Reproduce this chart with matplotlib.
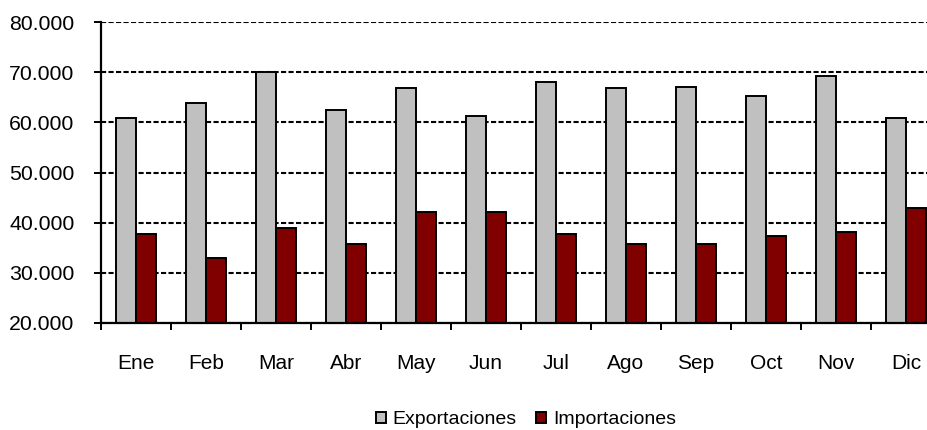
import matplotlib
matplotlib.use("Agg")
import matplotlib.pyplot as plt
import numpy as np
from matplotlib.ticker import FuncFormatter, MultipleLocator

months = ["Ene", "Feb", "Mar", "Abr", "May", "Jun", "Jul", "Ago", "Sep", "Oct", "Nov", "Dic"]
exportaciones = [60800, 63900, 70000, 62500, 66800, 61300, 68000, 66800, 67100, 65200, 69200, 60900]
importaciones = [37700, 33000, 38900, 35700, 42100, 42100, 37700, 35700, 35700, 37300, 38100, 42900]
series_names = ["Exportaciones", "Importaciones"]

plt.rcParams['font.family'] = ['Liberation Sans', 'DejaVu Sans']
plt.rcParams['lines.scale_dashes'] = False

fig = plt.figure(figsize=(9.27, 4.30), dpi=100)
ax = fig.add_axes([101/927, 107/430, 840/927, 301/430])

x = np.arange(len(months))
w = 20/70
ax.bar(x - w/2, exportaciones, width=w, color="#C0C0C0", edgecolor="black", linewidth=1.4,
       label=series_names[0], zorder=3)
ax.bar(x + w/2, importaciones, width=w, color="#800000", edgecolor="black", linewidth=1.4,
       label=series_names[1], zorder=3)

ax.set_ylim(20000, 80000)
ax.set_xlim(-0.5, len(months) - 0.5)
ax.yaxis.set_major_locator(MultipleLocator(10000))
ax.yaxis.set_major_formatter(FuncFormatter(lambda v, p: f"{int(v):,}".replace(",", ".")))
ax.yaxis.grid(True, linestyle=(0, (3.7, 1.7)), color="black", linewidth=1.5, zorder=1)

ax.set_xticks(x)
ax.set_xticklabels(months)
ax.set_xticks(np.arange(-0.5, len(months) + 0.5, 1), minor=True)
ax.tick_params(axis='x', which='major', length=0, pad=22, labelsize=15)
ax.tick_params(axis='x', which='minor', length=5, width=1.4, direction='out')
ax.tick_params(axis='y', length=5, width=1.4, direction='out', labelsize=15.3, pad=14)

for s in ['top', 'right']:
    ax.spines[s].set_visible(False)
for s in ['left', 'bottom']:
    ax.spines[s].set_linewidth(1.6)
    ax.spines[s].set_zorder(4)

fig.legend(loc='center', bbox_to_anchor=(526/927, 1 - 420/430), ncol=2, frameon=False,
           fontsize=14, handlelength=0.5, handleheight=0.5, handletextpad=0.35,
           columnspacing=1.0)

fig.savefig("out.png", dpi=100)
